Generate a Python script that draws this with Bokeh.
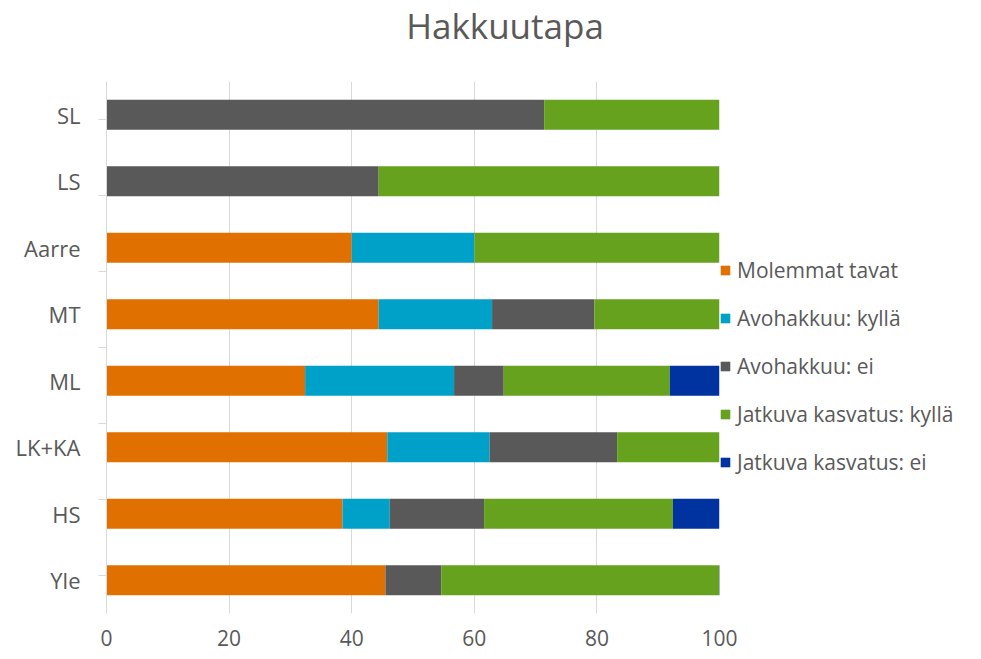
from bokeh.plotting import figure
from bokeh.layouts import column
from bokeh.models import (FactorRange, Range1d, LinearAxis, CategoricalAxis, FixedTicker,
                          Legend, LegendItem, ColumnDataSource, Div)
from bokeh.embed import file_html
from bokeh.resources import INLINE

title_text = "Hakkuutapa"
categories = ["Yle", "HS", "LK+KA", "ML", "MT", "Aarre", "LS", "SL"]
series = ["Molemmat tavat", "Avohakkuu: kyllä", "Avohakkuu: ei",
          "Jatkuva kasvatus: kyllä", "Jatkuva kasvatus: ei"]
molemmat = [45.5, 38.5, 45.8, 32.4, 44.4, 40.0, 0.0, 0.0]
avo_kylla = [0.0, 7.7, 16.7, 24.3, 18.5, 20.0, 0.0, 0.0]
avo_ei = [9.1, 15.4, 20.8, 8.1, 16.7, 0.0, 44.4, 71.4]
jatk_kylla = [45.5, 30.8, 16.7, 27.1, 20.4, 40.0, 55.6, 28.6]
jatk_ei = [0.0, 7.7, 0.0, 8.1, 0.0, 0.0, 0.0, 0.0]
x_ticks = [0, 20, 40, 60, 80, 100]
colors = ["#E07000", "#00A1C9", "#595959", "#66A21E", "#0033A0"]

keys = ["a", "b", "c", "d", "e"]
source = ColumnDataSource(dict(cat=categories, a=molemmat, b=avo_kylla, c=avo_ei,
                               d=jatk_kylla, e=jatk_ei))

FONT = "Open Sans"
TXT = "#595959"

title_div = Div(text=title_text, width=960, height=42,
                styles={"font-family": FONT, "font-size": "35px", "color": TXT,
                        "text-align": "center", "line-height": "42px",
                        "padding-left": "40px", "box-sizing": "border-box",
                        "width": "960px"})

p = figure(y_range=FactorRange(*categories), x_range=Range1d(0, 100),
           frame_width=613, frame_height=532, output_backend="svg",
           toolbar_location=None, y_axis_location=None, x_axis_location=None,
           min_border_left=106, min_border_top=29, min_border_right=0, min_border_bottom=40)
p.outline_line_color = None

renderers = p.hbar_stack(keys, y="cat", height=0.45, color=colors, source=source,
                         line_color=None)

# x axis
xaxis = LinearAxis(ticker=FixedTicker(ticks=x_ticks))
xaxis.axis_line_color = None
xaxis.major_tick_line_color = None
xaxis.minor_tick_line_color = None
xaxis.major_label_text_font = FONT
xaxis.major_label_text_font_size = "21px"
xaxis.major_label_text_color = TXT
xaxis.major_label_standoff = 10
p.add_layout(xaxis, "below")

# separator ticks between categories: a categorical range whose factor
# centres fall on the category boundaries of the main range
sep_factors = ["s%d" % i for i in range(len(categories) + 1)]
p.extra_y_ranges = {"sep": FactorRange(*sep_factors, range_padding=-1,
                                       range_padding_units="absolute")}
sep_axis = CategoricalAxis(y_range_name="sep")
sep_axis.axis_line_color = "#d9d9d9"
sep_axis.major_tick_line_color = "#d9d9d9"
sep_axis.major_tick_out = 8
sep_axis.major_tick_in = 0
sep_axis.major_label_text_font_size = "0px"
sep_axis.major_label_text_color = None
sep_axis.major_label_standoff = 0
p.add_layout(sep_axis, "left")

yaxis = CategoricalAxis()
yaxis.axis_line_color = None
yaxis.major_tick_line_color = None
yaxis.major_label_text_font = FONT
yaxis.major_label_text_font_size = "22px"
yaxis.major_label_text_color = TXT
yaxis.major_label_standoff = 12
p.add_layout(yaxis, "left")

p.xgrid.ticker = FixedTicker(ticks=x_ticks)
p.xgrid.grid_line_color = "#d9d9d9"
p.ygrid.grid_line_color = None

legend = Legend(items=[LegendItem(label=s, renderers=[r]) for s, r in zip(series, renderers)],
                location=(0, 137))
legend.label_text_font = FONT
legend.label_text_font_size = "21px"
legend.label_text_color = TXT
legend.glyph_width = 12
legend.glyph_height = 12
legend.label_height = 20
legend.spacing = 20
legend.padding = 3
legend.margin = 0
legend.label_standoff = 6
legend.border_line_color = None
legend.background_fill_alpha = 0
p.add_layout(legend, "right")

layout = column(title_div, p, spacing=0)
open("out.html", "w").write(file_html(layout, INLINE))
